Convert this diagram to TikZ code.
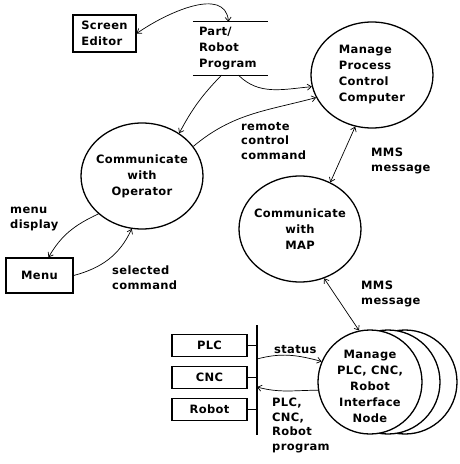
\documentclass[tikz,border=0pt]{standalone}
\usepackage{fontspec}
\newfontfamily\dfdfont{DejaVu Sans}[LetterSpace=3]
\usetikzlibrary{positioning,shapes.geometric,arrows.meta}

\tikzset{
  proc/.style={ellipse, draw, line width=1.3pt, fill=white, minimum width=122pt, minimum height=106pt, inner sep=0pt},
  ext/.style={rectangle, draw, line width=1.3pt, minimum width=75pt, minimum height=22pt},
  txt/.style={font=\dfdfont\bfseries\fontsize{11.5}{16}\selectfont, inner sep=0pt},
  lbl/.style={font=\dfdfont\bfseries\fontsize{11.5}{14.5}\selectfont, inner sep=0pt, align=left, anchor=base west},
  flow/.style={line width=0.7pt},
}

\begin{document}
\begin{tikzpicture}[x=1pt,y=1pt,>={Straight Barb[length=4pt,width=6pt]}]
  \useasboundingbox (0,0) rectangle (459,-464);

  % processes
  \node[proc] (oper) at (142,-176) {};
  \node[txt, align=center] at (oper) {Communicate\\with\\Operator};
  \node[proc] (pc) at (372,-75) {};
  \node[txt, align=left] at (pc) {Manage\\Process\\Control\\Computer};
  \node[proc] (map) at (300,-229) {};
  \node[txt, align=center] at (map) {Communicate\\with\\MAP};

  \node[proc, minimum width=104pt, minimum height=104pt] (iface3) at (405,-382) {};
  \node[proc, minimum width=104pt, minimum height=104pt] (iface2) at (388,-382) {};
  \node[proc, minimum width=104pt, minimum height=104pt] (iface) at (370,-382) {};
  \node[txt, align=center] at ([yshift=-4pt]iface.center) {Manage\\PLC, CNC,\\Robot\\Interface\\Node};

  % terminators
  \node[ext, txt, align=left, minimum width=63pt, minimum height=37pt] (editor) at (104.5,-33.5) {Screen\\Editor};
  \node[ext, txt, minimum width=67pt, minimum height=35pt] (menu) at (39.5,-275.5) {Menu};
  \node[ext, txt] (plc) at (209.5,-345.5) {PLC};
  \node[ext, txt] (cnc) at (209.5,-377.5) {CNC};
  \node[ext, txt] (robot) at (209.5,-409.5) {Robot};

  % data store
  \node[txt, align=left, text width=63pt, inner xsep=6pt, minimum height=53pt] (store) at (230.5,-48.5) {Part/\\Robot\\Program};
  \draw[line width=1pt] (store.north west) -- (store.north east);
  \draw[line width=1pt] (store.south west) -- (store.south east);

  % bus
  \coordinate (bustop) at (257,-325);
  \coordinate (busbot) at (257,-435);
  \coordinate (s1) at (257,-359);
  \coordinate (s2) at (257,-387);
  \draw[line width=1.3pt] (bustop) -- (busbot);
  \foreach \b in {plc,cnc,robot}
    \draw[line width=1.3pt] (\b.east) -- (\b.east -| bustop);

  % flows
  \draw[flow,<->] (editor.east) to[out=35,in=95] ([xshift=-2pt]store.north);
  \draw[flow,->] ([xshift=-9pt]store.south) to[bend right=8] (oper.49);
  \draw[flow,->] ([xshift=8pt]store.south) to[out=-45,in=185] (pc.191);
  \draw[flow,->] (oper.30) to[out=40,in=195] (pc.202);
  \draw[flow,<->] (pc.252) -- (map.57);
  \draw[flow,<->] (map.296) -- (iface.102);
  \draw[flow,->] (oper.221) to[out=205,in=60] ([xshift=9pt]menu.north);
  \draw[flow,->] (menu.east) to[out=15,in=245] (oper.259);
  \draw[flow,->] (s1) to[out=15,in=165] (iface.157);
  \draw[flow,->] (iface.189) to[out=180,in=-15] (s2);

  % labels (base = last line)
  \node[lbl] (rcc) at (241,-159) {remote\\control\\command};
  \node[lbl] (mms1) at (371,-171) {MMS\\message};
  \node[lbl] (mdisp) at (10,-228) {menu\\display};
  \node[lbl] (selcmd) at (112,-289) {selected\\command};
  \node[lbl] (mms2) at (361,-304) {MMS\\message};
  \node[lbl] (stat) at (274,-353) {status};
  \node[lbl] (prog) at (272,-450) {PLC,\\CNC,\\Robot\\program};
\end{tikzpicture}
\end{document}
